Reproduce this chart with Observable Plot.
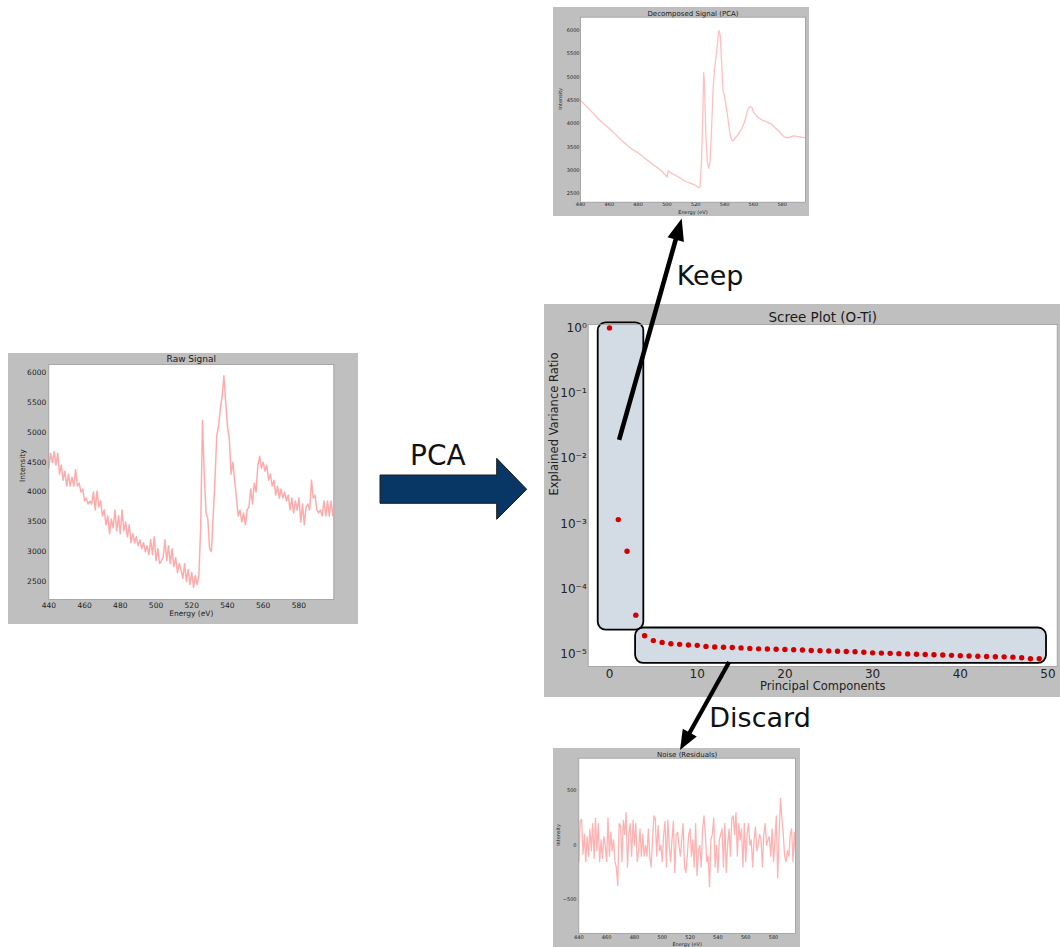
<!DOCTYPE html>
<html>
<head>
<meta charset="utf-8">
<script src="https://cdn.jsdelivr.net/npm/d3@7"></script>
<script src="https://cdn.jsdelivr.net/npm/@observablehq/plot@0.6"></script>
<style>
  html, body { margin: 0; padding: 0; background: #fff; }
  #page { position: relative; width: 1060px; height: 947px; overflow: hidden; background: #fff; font-family: "DejaVu Sans", sans-serif; }
  #page > svg { position: absolute; }
</style>
</head>
<body>
<div id="page"></div>
<script>
// ---------- Data: O-Ti edge spectrum, PCA reconstruction, residuals, scree ----------

// Raw spectrum, one sample per eV from 440 eV
const rawStart = 440;
const rawIntensity = [
  4400, 4650, 4500, 4680, 4450, 4650, 4300, 4450, 4200, 4350,
  4100, 4300, 4100, 4250, 4100, 4380, 4100, 4150, 4000, 4050,
  3850, 3900, 3800, 3850, 3800, 4000, 3700, 4020, 3750, 3850,
  3600, 3700, 3450, 3600, 3300, 3550, 3400, 3700, 3350, 3600,
  3300, 3700, 3350, 3500, 3250, 3450, 3150, 3300, 3150, 3250,
  3100, 3200, 3050, 3150, 3000, 3100, 2950, 3200, 2950, 3250,
  2850, 3050, 2800, 2850, 2900, 3200, 2850, 3100, 2800, 3050,
  2750, 2900, 2650, 2800, 2700, 2550, 2800, 2500, 2700, 2450,
  2650, 2400, 2600, 2450, 2600, 3400, 5200, 4300, 3650, 3550,
  3050, 3000, 3600, 4200, 4950, 5100, 5400, 5600, 5950, 5500,
  5100, 4900, 4300, 4500, 4200, 3900, 3600, 3700, 3500, 3650,
  3450, 3700, 3750, 4050, 3800, 4150, 4000, 4450, 4600, 4400,
  4500, 4350, 4450, 4200, 4300, 4100, 4200, 3950, 4100, 3900,
  4050, 3900, 4000, 3850, 3950, 3700, 3900, 3650, 3850, 3700,
  3900, 3500, 3800, 3450, 3750, 3800, 3700, 4200, 3900, 3950,
  3700, 3650, 3700, 3600, 3850, 3600, 3850, 3600, 3850, 3600
];

// PCA reconstruction (first components kept)
const decompEnergy = [
  440, 444, 448, 452, 456, 460, 464, 468, 472, 476, 480, 484, 488, 492, 496, 499,
  500, 501, 502, 504, 508, 512, 516, 520, 522, 523, 524, 525, 525.5, 526, 527, 528,
  529, 530, 531, 532, 533, 534, 535, 536, 537, 538, 539, 540, 541, 542, 543, 544,
  545, 546, 547, 548, 550, 552, 554, 556, 557, 558, 559, 560, 562, 564, 566, 568,
  570, 572, 574, 576, 578, 580, 582, 584, 586, 588, 590, 592, 594, 596
];
const decompIntensity = [
  4500, 4380, 4250, 4120, 4000, 3900, 3780, 3660, 3550, 3450, 3380, 3280, 3180, 3090, 3000, 2900,
  2860, 2990, 2960, 2930, 2860, 2780, 2730, 2680, 2630, 2650, 3200, 4300, 5100, 4900, 3800, 3200,
  3050, 3200, 3900, 4700, 5150, 5400, 5700, 6000, 5900, 5300, 4700, 4600, 4400, 4200, 3950, 3750,
  3650, 3640, 3680, 3720, 3800, 3900, 4050, 4300, 4350, 4370, 4350, 4250, 4180, 4120, 4080, 4060,
  4030, 4000, 3950, 3890, 3830, 3760, 3710, 3700, 3720, 3740, 3730, 3720, 3710, 3710
];

// Residuals (discarded components), one sample per eV from 440 eV
const noiseStart = 440;
const noiseIntensity = [
  -150, 220, 240, -80, 100, -150, 80, -100, 150, -50,
   200, -120, 250, -50, 200, -150, 50, -120, 80, 0,
  -150, 250, -100, 120, -50, 50, -150, -200, -370, 200,
   180, -150, 230, 100, 300, -200, 100, 200, -100, 230,
     0, 200, -150, -50, 150, -100, 100, -100, 0, -100,
   150, -100, -200, 50, 270, 250, -100, 180, -50, 0,
  -150, 100, 220, -200, 230, 0, -150, 50, 220, -250,
   100, 120, 0, -100, 50, 200, -200, -250, -100, 100,
   150, -100, 50, -200, 200, -280, -50, 0, -200, 150,
   270, 100, -150, -100, -380, 50, 100, 250, -200, 0,
  -250, 50, 100, 150, -200, 200, -250, 0, 150, -100,
   250, 270, 100, 300, -100, 200, 50, 150, -200, 200,
  -150, 100, 200, 0, 50, -200, 50, 170, -50, 0,
   100, 50, -200, 100, 200, 0, 50, 80, -100, 150,
  -150, 50, 270, -300, 100, 430, 250, 100, -100, -150,
   -50, -100, 100, 150, -150, 120, -100
];

// Explained variance ratio of the first 50 principal components
const varianceRatio = [
  0.998, 1.16e-3, 3.8e-4, 4.0e-5,
  1.94e-5, 1.63e-5, 1.53e-5, 1.46e-5, 1.43e-5, 1.40e-5, 1.38e-5, 1.33e-5, 1.30e-5, 1.29e-5,
  1.28e-5, 1.26e-5, 1.24e-5, 1.22e-5, 1.21e-5, 1.20e-5, 1.19e-5, 1.18e-5, 1.17e-5, 1.15e-5,
  1.14e-5, 1.13e-5, 1.12e-5, 1.11e-5, 1.10e-5, 1.08e-5, 1.06e-5, 1.05e-5, 1.04e-5, 1.03e-5,
  1.02e-5, 1.01e-5, 1.00e-5, 0.99e-5, 0.98e-5, 0.97e-5, 0.96e-5, 0.95e-5, 0.94e-5, 0.93e-5,
  0.925e-5, 0.92e-5, 0.91e-5, 0.89e-5, 0.86e-5, 0.86e-5
];
const keptComponents = 4;

// Tick values
const energyTicks = [440, 460, 480, 500, 520, 540, 560, 580];
const intensityTicks = [2500, 3000, 3500, 4000, 4500, 5000, 5500, 6000];
const noiseTicks = [-500, 0, 500];
const componentTicks = [0, 10, 20, 30, 40, 50];
const ratioTicks = [1e-5, 1e-4, 1e-3, 1e-2, 1e-1, 1];

// ---------- Helpers ----------
const page = document.getElementById("page");
const FONT = "DejaVu Sans, sans-serif";
const PANEL_BG = "#bfbfbf";
const minus = d => (d < 0 ? "\u2212" + Math.abs(d) : String(d));
const SUP = {"-": "\u207B", "0": "\u2070", "1": "\u00B9", "2": "\u00B2", "3": "\u00B3", "4": "\u2074", "5": "\u2075"};
const pow10 = d => "10" + String(Math.round(Math.log10(d))).split("").map(c => SUP[c]).join("");

function place(svg, box) {
  svg.style.left = box.left + "px";
  svg.style.top = box.top + "px";
  page.appendChild(svg);
  return svg;
}

// A matplotlib-style panel: grey figure, white axes, title, axis labels
function spectrumPanel(o) {
  const {box, frame} = o;
  const width = box.right - box.left, height = box.bottom - box.top;
  const rows = o.x.map((x, i) => ({x, y: o.y[i]}));
  const chart = Plot.plot({
    width, height,
    marginLeft: frame.left - box.left,
    marginRight: box.right - frame.right,
    marginTop: frame.top - box.top,
    marginBottom: box.bottom - frame.bottom,
    style: {background: PANEL_BG, fontFamily: FONT, fontSize: o.tickSize + "px", color: "#222", overflow: "visible"},
    x: {domain: o.xDomain, ticks: energyTicks, tickFormat: d => String(d), tickSize: 0, tickPadding: o.xPad, label: null},
    y: {domain: o.yDomain, ticks: o.yTicks, tickFormat: minus, tickSize: 0, tickPadding: o.yPad, label: null},
    marks: [
      Plot.frame({fill: "white"}),
      Plot.line(rows, {x: "x", y: "y", stroke: "#ff0000", strokeOpacity: o.opacity, strokeWidth: o.lineWidth, clip: true}),
      Plot.frame({stroke: "#9a9a9a", strokeWidth: 0.8}),
      Plot.text([o.title], {text: d => d, frameAnchor: "top", dy: o.titleDy, lineAnchor: "middle", fontSize: o.titleSize, fill: "#1a1a1a"}),
      Plot.text(["Energy (eV)"], {text: d => d, frameAnchor: "bottom", dy: o.xLabelDy, lineAnchor: "middle", fontSize: o.labelSize, fill: "#222"}),
      Plot.text(["Intensity"], {text: d => d, frameAnchor: "left", dx: o.yLabelDx, rotate: -90, lineAnchor: "middle", fontSize: o.labelSize, fill: "#222"})
    ]
  });
  return place(chart, box);
}

// ---------- Raw signal ----------
spectrumPanel({
  box: {left: 8, top: 353, right: 358, bottom: 624},
  frame: {left: 48.3, top: 364, right: 333.3, bottom: 599},
  x: rawIntensity.map((_, i) => rawStart + i), y: rawIntensity,
  xDomain: [440, 599.5], yDomain: [2198, 6140], yTicks: intensityTicks,
  title: "Raw Signal", titleSize: 9, tickSize: 7.5, labelSize: 7.5,
  titleDy: -5, xLabelDy: 14.3, yLabelDx: -26.6, xPad: 2.7, yPad: 2.6,
  opacity: 0.33, lineWidth: 1.5
});

// ---------- Decomposed signal ----------
spectrumPanel({
  box: {left: 553, top: 7, right: 809, bottom: 216},
  frame: {left: 580, top: 16.7, right: 805, bottom: 201.7},
  x: decompEnergy, y: decompIntensity,
  xDomain: [440, 596.2], yDomain: [2320, 6286], yTicks: intensityTicks,
  title: "Decomposed Signal (PCA)", titleSize: 7, tickSize: 5, labelSize: 5,
  titleDy: -3.7, xLabelDy: 10.3, yLabelDx: -20, xPad: 0.6, yPad: 1,
  opacity: 0.25, lineWidth: 1.3
});

// ---------- Residual noise ----------
spectrumPanel({
  box: {left: 553, top: 748, right: 800, bottom: 947},
  frame: {left: 578.3, top: 757.7, right: 795, bottom: 933},
  x: noiseIntensity.map((_, i) => noiseStart + i), y: noiseIntensity,
  xDomain: [440, 595.8], yDomain: [-810, 800], yTicks: noiseTicks,
  title: "Noise (Residuals)", titleSize: 7, tickSize: 5, labelSize: 5,
  titleDy: -3.7, xLabelDy: 11, yLabelDx: -20, xPad: 2, yPad: 2.3,
  opacity: 0.3, lineWidth: 1.3
});

// ---------- Scree plot ----------
const screeBox = {left: 544, top: 304, right: 1060, bottom: 697};
const screeFrame = {left: 587.7, top: 324, right: 1056.7, bottom: 666};
const components = varianceRatio.map((v, i) => ({pc: i, ratio: v}));
const kept = components.slice(0, keptComponents);
const dropped = components.slice(keptComponents);
const groupExtent = g => [{
  x1: d3.min(g, d => d.pc), x2: d3.max(g, d => d.pc),
  y1: d3.min(g, d => d.ratio), y2: d3.max(g, d => d.ratio)
}];
const boxStyle = {x1: "x1", x2: "x2", y1: "y1", y2: "y2", fill: "#d3dbe5", stroke: "#000", strokeWidth: 1.8, rx: 8};

const scree = Plot.plot({
  width: screeBox.right - screeBox.left,
  height: screeBox.bottom - screeBox.top,
  marginLeft: screeFrame.left - screeBox.left,
  marginRight: screeBox.right - screeFrame.right,
  marginTop: screeFrame.top - screeBox.top,
  marginBottom: screeBox.bottom - screeFrame.bottom,
  style: {background: PANEL_BG, fontFamily: FONT, fontSize: "12px", color: "#222", overflow: "visible"},
  x: {domain: [-2.43, 51.05], ticks: componentTicks, tickFormat: d => String(d), tickSize: 0, tickPadding: 2.5, label: null},
  y: {type: "log", domain: [10 ** -5.184, 10 ** 0.051], ticks: ratioTicks, tickFormat: pow10, tickSize: 0, tickPadding: 1.5, label: null},
  marks: [
    Plot.frame({fill: "white"}),
    Plot.rect(groupExtent(kept), {...boxStyle, insetLeft: -11.3, insetRight: -8, insetTop: -5, insetBottom: -15}),
    Plot.rect(groupExtent(dropped), {...boxStyle, insetLeft: -9, insetRight: -7.3, insetTop: -7.7, insetBottom: -4.6}),
    Plot.dot(components, {x: "pc", y: "ratio", r: 2.7, fill: "#d20000"}),
    Plot.frame({stroke: "#9a9a9a", strokeWidth: 0.8}),
    Plot.text(["Scree Plot (O-Ti)"], {text: d => d, frameAnchor: "top", dy: -7.3, lineAnchor: "middle", fontSize: 13.5, fill: "#1a1a1a"}),
    Plot.text(["Principal Components"], {text: d => d, frameAnchor: "bottom", dy: 19.7, lineAnchor: "middle", fontSize: 11.5, fill: "#222"}),
    Plot.text(["Explained Variance Ratio"], {text: d => d, frameAnchor: "left", dx: -33.7, rotate: -90, lineAnchor: "middle", fontSize: 11.5, fill: "#222"})
  ]
});
place(scree, screeBox);

// ---------- Annotations: PCA step, Keep / Discard arrows ----------
const overlay = d3.select(page).append("svg")
  .attr("width", 1060).attr("height", 947)
  .style("left", "0px").style("top", "0px")
  .style("pointer-events", "none");

function arrow(g, [x0, y0], [x1, y1], {width, headLength, headWidth}) {
  const dx = x1 - x0, dy = y1 - y0, len = Math.hypot(dx, dy);
  const ux = dx / len, uy = dy / len, px = -uy, py = ux;
  const bx = x1 - ux * headLength, by = y1 - uy * headLength;
  g.append("line")
    .attr("x1", x0).attr("y1", y0).attr("x2", bx + ux * 2).attr("y2", by + uy * 2)
    .attr("stroke", "#000").attr("stroke-width", width);
  g.append("polygon")
    .attr("points", [[x1, y1], [bx + px * headWidth / 2, by + py * headWidth / 2], [bx - px * headWidth / 2, by - py * headWidth / 2]]
      .map(p => p.join(",")).join(" "))
    .attr("fill", "#000");
}

// Tail of the "Keep" arrow sits inside the kept-components box
const sx = scree.scale("x"), sy = scree.scale("y");
const keepTail = [screeBox.left + sx.apply(1.15), screeBox.top + sy.apply(0.019)];
const discardTail = [screeBox.left + sx.apply(13.7), 662];

arrow(overlay, keepTail, [681.7, 218.5], {width: 4.6, headLength: 22, headWidth: 17});
arrow(overlay, discardTail, [680, 750], {width: 4.2, headLength: 20, headWidth: 16});

// Block arrow for the PCA step
overlay.append("polygon")
  .attr("points", [[380, 475], [496.7, 475], [496.7, 458.3], [526.7, 489.3], [496.7, 519.3], [496.7, 503.3], [380, 503.3]]
    .map(p => p.join(",")).join(" "))
  .attr("fill", "#083766").attr("stroke", "#1c1c1c").attr("stroke-width", 1);

const label = (text, x, y, size) => overlay.append("text")
  .attr("x", x).attr("y", y).attr("font-family", FONT).attr("font-size", size).attr("fill", "#111").text(text);
label("PCA", 410, 465, 28);
label("Keep", 676.7, 285, 27);
label("Discard", 709.3, 727.3, 27);
</script>
</body>
</html>
